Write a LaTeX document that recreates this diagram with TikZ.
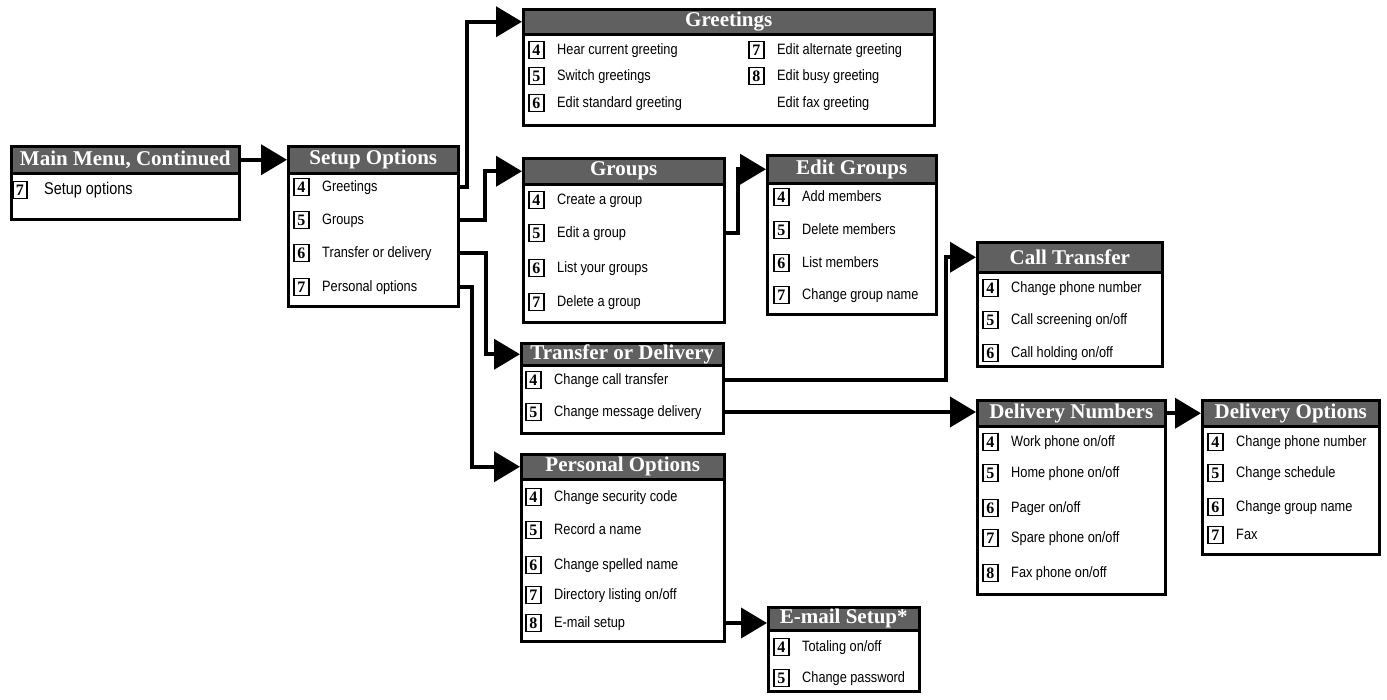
\documentclass[tikz,border=0pt]{standalone}
\usepackage{fontspec}
\setmainfont{Liberation Serif}
\newfontfamily\itemfont[FakeStretch=0.85]{Liberation Sans}
\usepackage{tikz}
\usetikzlibrary{arrows.meta}
\definecolor{headgray}{RGB}{96,96,96}
\tikzset{
  menubox/.style={draw, line width=2.5pt, anchor=north west, inner sep=0pt},
  menuhead/.style={draw, line width=2.5pt, fill=headgray, text=white, anchor=north west,
    inner sep=0pt, font=\bfseries\fontsize{21}{21}\selectfont},
  numbox/.style={draw, line width=1.8pt, anchor=west, minimum width=15pt, minimum height=17pt,
    inner sep=0pt, font=\bfseries\fontsize{16}{16}\selectfont},
  itemtext/.style={anchor=west, inner sep=0pt, text height=11pt, text depth=3pt,
    font=\itemfont\fontsize{15}{15}\selectfont},
  link/.style={line width=4pt, -{Triangle[length=26pt,width=30pt]}},
}
% box: name, x, y, width, height, header height, title
\newcommand{\menubox}[7]{%
  \node[menubox, minimum width=#4pt, minimum height=#5pt] (#1) at (#2,#3) {};
  \node[menuhead, minimum width=#4pt, minimum height=#6pt] (#1h) at (#1.north west) {#7};
}
% item: name, x, y, key, text
\newcommand{\menuitem}[5]{%
  \node[numbox] (#1n) at (#2,#3) {#4};
  \node[itemtext] (#1) at (#2+29,#3) {#5};
}

\begin{document}
\begin{tikzpicture}[x=1pt,y=-1pt]
      \useasboundingbox (0,0) rectangle (1387,699);
      % Menu boxes
      \menubox{main}{10}{145}{228}{73}{27}{Main Menu, Continued}
      \menubox{setup}{287}{145}{170}{160}{27}{Setup Options}
      \menubox{greet}{522}{8}{411}{116}{25}{Greetings}
      \menubox{groups}{522}{157}{201}{164}{26}{Groups}
      \menubox{editg}{766}{154}{169}{159}{28}{Edit Groups}
      \menubox{call}{976}{241}{185}{124}{30}{Call Transfer}
      \menubox{trans}{520}{342}{202}{90}{22}{Transfer or Delivery}
      \menubox{delnum}{976}{399}{188}{194}{26}{Delivery Numbers}
      \menubox{delop}{1201}{399}{177}{154}{26}{Delivery Options}
      \menubox{pers}{520}{453}{203}{187}{25}{Personal Options}
      \menubox{email}{767}{606}{151}{84}{23}{E-mail Setup*}
      %
      % Items
      \node[numbox, minimum width=14pt] (mm1n) at (12,190) {7};
      \node[itemtext, font=\itemfont\fontsize{17}{17}\selectfont] (mm1) at (44,190) {Setup options};
      \menuitem{st1}{293}{187}{4}{Greetings}
      \menuitem{st2}{293}{220}{5}{Groups}
      \menuitem{st3}{293}{253}{6}{Transfer or delivery}
      \menuitem{st4}{293}{287}{7}{Personal options}
      \menuitem{gr1}{528}{50}{4}{Hear current greeting}
      \menuitem{gr2}{528}{76}{5}{Switch greetings}
      \menuitem{gr3}{528}{103}{6}{Edit standard greeting}
      \menuitem{gr4}{748}{50}{7}{Edit alternate greeting}
      \menuitem{gr5}{748}{76}{8}{Edit busy greeting}
      \node[itemtext] (gr6) at (777,103) {Edit fax greeting};
      \menuitem{gp1}{528}{200}{4}{Create a group}
      \menuitem{gp2}{528}{233}{5}{Edit a group}
      \menuitem{gp3}{528}{268}{6}{List your groups}
      \menuitem{gp4}{528}{302}{7}{Delete a group}
      \menuitem{eg1}{773}{197}{4}{Add members}
      \menuitem{eg2}{773}{230}{5}{Delete members}
      \menuitem{eg3}{773}{263}{6}{List members}
      \menuitem{eg4}{773}{295}{7}{Change group name}
      \menuitem{ct1}{982}{288}{4}{Change phone number}
      \menuitem{ct2}{982}{320}{5}{Call screening on/off}
      \menuitem{ct3}{982}{353}{6}{Call holding on/off}
      \menuitem{tr1}{525}{380}{4}{Change call transfer}
      \menuitem{tr2}{525}{412}{5}{Change message delivery}
      \menuitem{dn1}{982}{442}{4}{Work phone on/off}
      \menuitem{dn2}{982}{473}{5}{Home phone on/off}
      \menuitem{dn3}{982}{508}{6}{Pager on/off}
      \menuitem{dn4}{982}{538}{7}{Spare phone on/off}
      \menuitem{dn5}{982}{573}{8}{Fax phone on/off}
      \menuitem{do1}{1207}{442}{4}{Change phone number}
      \menuitem{do2}{1207}{473}{5}{Change schedule}
      \menuitem{do3}{1207}{507}{6}{Change group name}
      \menuitem{do4}{1207}{535}{7}{Fax}
      \menuitem{ps1}{525}{497}{4}{Change security code}
      \menuitem{ps2}{525}{530}{5}{Record a name}
      \menuitem{ps3}{525}{565}{6}{Change spelled name}
      \menuitem{ps4}{525}{595}{7}{Directory listing on/off}
      \menuitem{ps5}{525}{623}{8}{E-mail setup}
      \menuitem{em1}{773}{647}{4}{Totaling on/off}
      \menuitem{em2}{773}{678}{5}{Change password}
      %
      % Links
      \draw[link] (mainh.east) -- (setuph.west);
      \draw[link] (setup.east |- st1) -- ++(7,0) |- (greeth.west);
      \draw[link] (setup.east |- st2) -- ++(25,0) |- (groupsh.west);
      \draw[link] (setup.east |- st3) -- ++(26,0) |- (transh.west);
      \draw[link] (setup.east |- st4) -- ++(12,0) |- (persh.west);
      \draw[link] (groups.east |- gp2) -- ++(12,0) |- (editgh.west);
      \draw[link] (trans.east |- tr1) -| ([xshift=-30pt]callh.west) -- (callh.west);
      \draw[link] (trans.east |- tr2) -- (delnumh.west |- tr2);
      \draw[link] (delnumh.east) -- (deloph.west);
      \draw[link] (pers.east |- ps5) -- (email.west |- ps5);
\end{tikzpicture}
\end{document}
